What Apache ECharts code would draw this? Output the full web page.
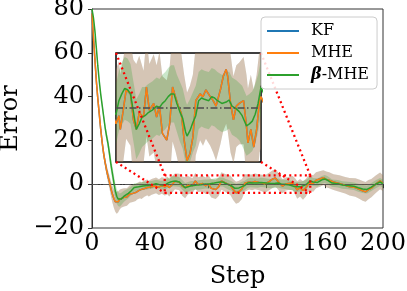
<!DOCTYPE html>
<html><head><meta charset="utf-8">
<script src="https://cdn.jsdelivr.net/npm/echarts@6/dist/echarts.min.js"></script>
<style>html,body{margin:0;padding:0;background:#fff}#c{width:407px;height:291px}</style>
</head><body><div id="c"></div>
<script>
// ---- data ----
const xTicks = [0, 40, 80, 120, 160, 200];
const yTicks = [-20, 0, 20, 40, 60, 80];
const insetX = [50, 150];
const insetY = [-4, 4];
const legendNames = ['KF', 'MHE', 'β-MHE'];

// [step, mean error, band half-width]
const mhe = [
  [0,78,1],[1,67,1],[2,57,1],[3,47,1.2],[4,39,1.2],[5,32,1.3],[6,25,1.4],[7,19,1.5],[8,14,1.7],[9,10,2],
  [10,6.5,2.3],[11,3.5,2.7],[12,1,3],[13,-2,3.4],[14,-4.5,3.8],[15,-6.5,4.2],[16,-8,4.6],[17,-8.5,5],
  [18,-8,4.8],[19,-7,4.5],[20,-6.5,4.3],[22,-6,4.2],[24,-5.8,4],[26,-4.5,4],[28,-4.2,3.9],[30,-3.8,3.9],
  [31,-3.2,3.8],[33,-2.6,3.8],[34,-3.0,3.8],[36,-2.0,3.7],[38,-1.5,3.6],[39,-2.0,3.6],[41,-1.2,3.6],
  [43,-0.8,3.6],[44,-0.5,3.6],[46,-1.3,3.6],[48,-0.6,3.8],
  [50,-1.2,4],[52,-0.6,4],[53,-1.6,4],[55,-0.2,3.8],[57,1.3,3.6],[60,1.0,3.8],[62,-0.9,4.4],[64,-1.6,4.8],
  [66,-0.4,4.2],[69,-0.7,3.4],[71,1.5,3.6],[73,-0.2,3.4],[76,0.3,3.6],[78,-0.7,3.8],[80,0.1,4],
  [82,-1.9,4.2],[85,-2.4,4.4],[87,-1.2,4.2],[89,1.5,4],[91,0.8,4],[93,0.1,4.2],[95,-0.4,4.4],
  [97,-2.4,4.8],[99,-3.9,5],[101,-3.4,5],[103,-2.2,4.6],[105,0.5,4],[108,1.0,3.4],[110,0.8,3.6],
  [112,1.3,3.6],[115,0.8,3.6],[117,0.5,3.8],[119,0.1,4],[122,1.3,4],[124,2.3,4],[126,2.8,4],
  [127,2.3,4],[129,0.3,3.6],[131,-0.9,3.2],[133,0.1,3],[135,0.3,3],[138,0.5,3.2],[140,-1.4,3.8],
  [141,-2.6,4],[143,-1.6,4],[145,-2.9,4.2],[147,-1.6,4],[149,0.5,3.8],[150,0.8,3.8],
  [152,0.3,3.8],[154,1.8,3.6],[157,2.5,3.5],[159,3.0,3.4],[161,2.2,3.6],[163,1.8,3.6],[166,1.0,3.6],
  [170,0.3,3.8],[174,-0.5,3.8],[177,-1.2,4],[181,-1.5,4.2],[184,-2.4,4.4],[186,-3.0,4.5],
  [188,-3.5,4.5],[190,-2.5,4.4],[192,-1.8,4.2],[195,0,4],[198,1.5,3.8],[200,0.5,3.6]
];
// KF coincides with MHE in the picture (its line lies hidden under MHE)
const kf = mhe;
const bmhe = [
  [0,80,1],[1,76,1],[2,70,1],[3,62,1.1],[4,54,1.2],[5,47,1.3],[6,41,1.4],[7,36,1.5],[8,31,1.7],[9,26,2],
  [10,22,2.3],[11,18.5,2.6],[12,14,3],[13,9,3.3],[14,5,3.5],[15,1,3.6],[16,-3,3.6],[17,-5.5,3.4],
  [18,-6.8,3.2],[19,-7.3,3],[20,-6.8,2.8],[22,-5.5,2.5],[25,-4.2,2.2],[27,-3,2],[29,-1.5,1.9],
  [32,-1.2,1.8],[35,-0.8,1.8],[38,-0.6,1.8],[41,-0.3,1.8],[44,0.2,1.8],[47,-0.3,1.9],
  [50,-0.5,2.2],[52,0.5,2.2],[54,1.0,2.3],[56,1.4,2.3],[58,1.3,2.3],[60,1.0,2.2],[62,-0.3,2.2],
  [64,-1.6,2.2],[66,-1.2,2.2],[68,-0.7,2.2],[70,-0.6,2.1],[72,-0.4,2.1],[75,-0.2,2.1],[78,0.1,2.1],
  [80,0.0,2.1],[82,0.3,2.1],[84,0.5,2.1],[86,0.8,2.1],[88,1.0,2.1],[90,1.0,2.1],[92,0.3,2.1],
  [94,-0.3,2.2],[96,-0.8,2.2],[98,-1.8,2.3],[99,-2.1,2.3],[101,-1.7,2.3],[103,-1.1,2.2],
  [105,-0.6,2.2],[107,0.5,2.1],[109,0.7,2.1],[111,0.6,2.1],[114,0.5,2.1],[116,0.8,2.1],
  [118,0.7,2.1],[120,0.5,2.1],[123,0.3,2.1],[126,0.4,2.1],[128,0.55,2.1],[130,0.1,2.1],
  [133,-0.1,2.1],[135,-0.3,2.1],[137,-0.6,2.2],[139,-1.1,2.2],[140,-1.35,2.2],[142,-1.2,2.2],
  [144,-1.0,2.2],[146,-0.5,2.2],[148,0.3,2.1],[150,1.5,2.0],
  [152,1.0,1.8],[155,0.8,1.8],[158,2.0,1.8],[160,2.4,1.8],[162,1.8,1.8],[165,0.5,1.7],[169,0.2,1.7],
  [172,-0.4,1.7],[176,-0.6,1.7],[180,-0.9,1.7],[183,-1.6,1.8],[186,-2.2,1.8],[189,-2.4,1.8],
  [192,-1.3,1.8],[195,0,1.8],[198,1,1.8],[200,0.2,1.8]
];

// ---- styling ----
const FONT = 'DejaVu Serif';
const C_KF = '#1f77b4', C_MHE = '#ff7f0e', C_B = '#2ca02c';

const chart = echarts.init(document.getElementById('c'), null, {renderer: 'canvas'});

function band(data, fill, gi, name) {
  return {
    type: 'custom', name: name, xAxisIndex: gi, yAxisIndex: gi, silent: true, z: 1,
    animation: false, clip: true,
    data: data.map(d => [d[0], d[1]]),
    renderItem: function (params, api) {
      if (params.dataIndex !== 0) return null;
      const up = data.map(d => api.coord([d[0], d[1] + d[2]]));
      const lo = data.map(d => api.coord([d[0], d[1] - d[2]])).reverse();
      const cs = params.coordSys;
      return {
        type: 'polygon', shape: {points: up.concat(lo)}, style: {fill: fill},
        clipPath: {type: 'rect', shape: {x: cs.x, y: cs.y, width: cs.width, height: cs.height}}
      };
    }
  };
}
function line(data, color, gi, name, w, extra) {
  return Object.assign({
    type: 'line', name: name, xAxisIndex: gi, yAxisIndex: gi,
    data: data.map(d => [d[0], d[1]]), symbol: 'none', color: color,
    lineStyle: {color: color, width: w}, z: 3, silent: true, animation: false, clip: true
  }, extra || {});
}
function zeroLine(w, color, dash) {
  return {
    silent: true, symbol: ['none', 'none'], label: {show: false}, animation: false,
    lineStyle: {color: color, width: w, type: dash},
    data: [{yAxis: 0}]
  };
}

const rect = [
  [insetX[0], insetY[0]], [insetX[1], insetY[0]], [insetX[1], insetY[1]],
  [insetX[0], insetY[1]], [insetX[0], insetY[0]]
];

const series = [];
[0, 1].forEach(gi => {
  series.push(band(kf, 'rgba(31,119,180,0.25)', gi, 'kfband' + gi));
  series.push(band(mhe, 'rgba(255,127,14,0.25)', gi, 'mheband' + gi));
  series.push(band(bmhe, 'rgba(44,160,44,0.25)', gi, 'bband' + gi));
  series.push(line(kf, C_KF, gi, 'KF', 1.5, {
    markLine: gi === 0 ? zeroLine(1, 'rgba(90,90,90,0.8)', [6, 2, 1, 2])
                       : zeroLine(1.8, 'rgba(80,80,80,0.8)', [7, 2.5, 1.5, 2.5])
  }));
  series.push(line(mhe, C_MHE, gi, 'MHE', 1.5));
  series.push(line(bmhe, C_B, gi, 'β-MHE', 1.5));
});
series.push({
  type: 'line', name: 'zoomrect', xAxisIndex: 0, yAxisIndex: 0, data: rect, symbol: 'none',
  lineStyle: {color: '#ff0000', width: 2.3, type: [2, 3.2], cap: 'butt'}, z: 6, silent: true,
  animation: false
});

const axisCommon = {
  axisLine: {show: true, lineStyle: {color: '#333', width: 1}},
  axisTick: {show: true, inside: false, length: 4, lineStyle: {color: '#333', width: 1}},
  splitLine: {show: false}
};

chart.setOption({
  animation: false,
  backgroundColor: '#fff',
  grid: [
    {left: 92, top: 9, width: 291, height: 219, show: true, borderColor: '#333', borderWidth: 1,
     backgroundColor: 'transparent', containLabel: false, outerBoundsMode: 'none'},
    {left: 116, top: 53, width: 145, height: 109, show: true, borderColor: '#000', borderWidth: 1.5,
     backgroundColor: '#fff', containLabel: false, outerBoundsMode: 'none'}
  ],
  xAxis: [
    Object.assign({
      type: 'value', gridIndex: 0, min: xTicks[0], max: xTicks[xTicks.length - 1],
      interval: xTicks[1] - xTicks[0],
      name: 'Step', nameLocation: 'middle', nameGap: 37,
      nameTextStyle: {fontFamily: FONT, fontSize: 24, color: '#000'},
      axisLabel: {fontFamily: FONT, fontSize: 24, color: '#000', margin: 4}
    }, axisCommon),
    {type: 'value', gridIndex: 1, min: insetX[0], max: insetX[1], show: false, splitLine: {show: false}}
  ],
  yAxis: [
    Object.assign({
      type: 'value', gridIndex: 0, min: yTicks[0], max: yTicks[yTicks.length - 1],
      interval: yTicks[1] - yTicks[0],
      name: 'Error', nameLocation: 'middle', nameGap: 59, nameRotate: 90,
      nameTextStyle: {fontFamily: FONT, fontSize: 24, color: '#000'},
      axisLabel: {fontFamily: FONT, fontSize: 24, color: '#000', margin: 8,
        formatter: v => String(v).replace('-', '\u2212')}
    }, axisCommon),
    {type: 'value', gridIndex: 1, min: insetY[0], max: insetY[1], show: false, splitLine: {show: false}}
  ],
  legend: {
    data: legendNames, orient: 'vertical', left: 261, top: 17,
    padding: [6, 8, 6, 6], itemGap: 6, itemWidth: 32, itemHeight: 2, icon: 'rect',
    backgroundColor: 'rgba(255,255,255,0.85)', borderColor: '#ccc', borderWidth: 1, borderRadius: 4,
    textStyle: {fontFamily: FONT, fontSize: 16, color: '#000', padding: [0, 0, 0, 7],
      rich: {b: {fontFamily: FONT, fontSize: 16, fontStyle: 'italic', fontWeight: 'bold', color: '#000'}}},
    formatter: n => n.indexOf('β') === 0 ? '{b|β}-MHE' : n,
    selectedMode: false, z: 20
  },
  series: series
});

// connector lines between the inset corners and the zoomed rectangle corners
const corners = [
  [insetX[0], insetY[1]], [insetX[1], insetY[1]], [insetX[0], insetY[0]], [insetX[1], insetY[0]]
];
const g = corners.map(p => {
  const a = chart.convertToPixel({gridIndex: 1}, p);
  const b = chart.convertToPixel({gridIndex: 0}, p);
  return {
    type: 'line', silent: true, z: 15,
    shape: {x1: a[0], y1: a[1], x2: b[0], y2: b[1]},
    style: {stroke: '#ff0000', lineWidth: 2.3, lineDash: [2, 3.2], lineCap: 'butt'}
  };
});
chart.setOption({graphic: g});
</script></body></html>
